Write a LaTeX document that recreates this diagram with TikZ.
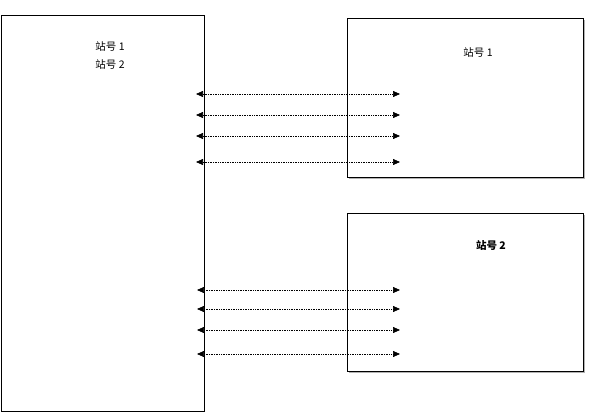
\documentclass[tikz,border=0pt]{standalone}
\usepackage{fontspec}
\newfontfamily\cjk{Noto Sans CJK SC}
\usetikzlibrary{positioning, arrows.meta, shadows}

\begin{document}
\begin{tikzpicture}[
  x=1pt, y=-1pt,
  font=\cjk\fontsize{10.5}{18}\selectfont,
  box/.style={draw, line width=0.8pt, fill=white, inner sep=0pt, anchor=north west},
  shade box/.style={box, drop shadow={shadow xshift=1.5pt, shadow yshift=-1.5pt, fill=gray!60, opacity=1}},
  link/.style={densely dotted, line width=0.7pt, {Triangle[length=7pt,width=6pt]}-{Triangle[length=7pt,width=6pt]}}
]
\useasboundingbox (0,0) rectangle (595,418);
\node[box, minimum width=203pt, minimum height=396pt] (stn) at (1,15) {};
\node[shade box, minimum width=236pt, minimum height=159pt] (stnA) at (347,18) {};
\node[shade box, minimum width=236pt, minimum height=158pt] (stnB) at (347,213) {};
\node[align=center] (stnlbl) at (110,55) {站号 1\\站号 2};
\node (stnAlbl) at (478,52) {站号 1};
\node[font=\cjk\bfseries\fontsize{10.5}{18}\selectfont] (stnBlbl) at (491,245) {站号 2};
\foreach \y [count=\i] in {94,115,136,162} {
  \coordinate (a\i) at (196,\y);
  \coordinate (b\i) at (400,\y);
  \draw[link] (a\i) -- (b\i);
}
\foreach \y [count=\i] in {290,309,330,354} {
  \coordinate (c\i) at (197,\y);
  \coordinate (d\i) at (400,\y);
  \draw[link] (c\i) -- (d\i);
}
\end{tikzpicture}
\end{document}
